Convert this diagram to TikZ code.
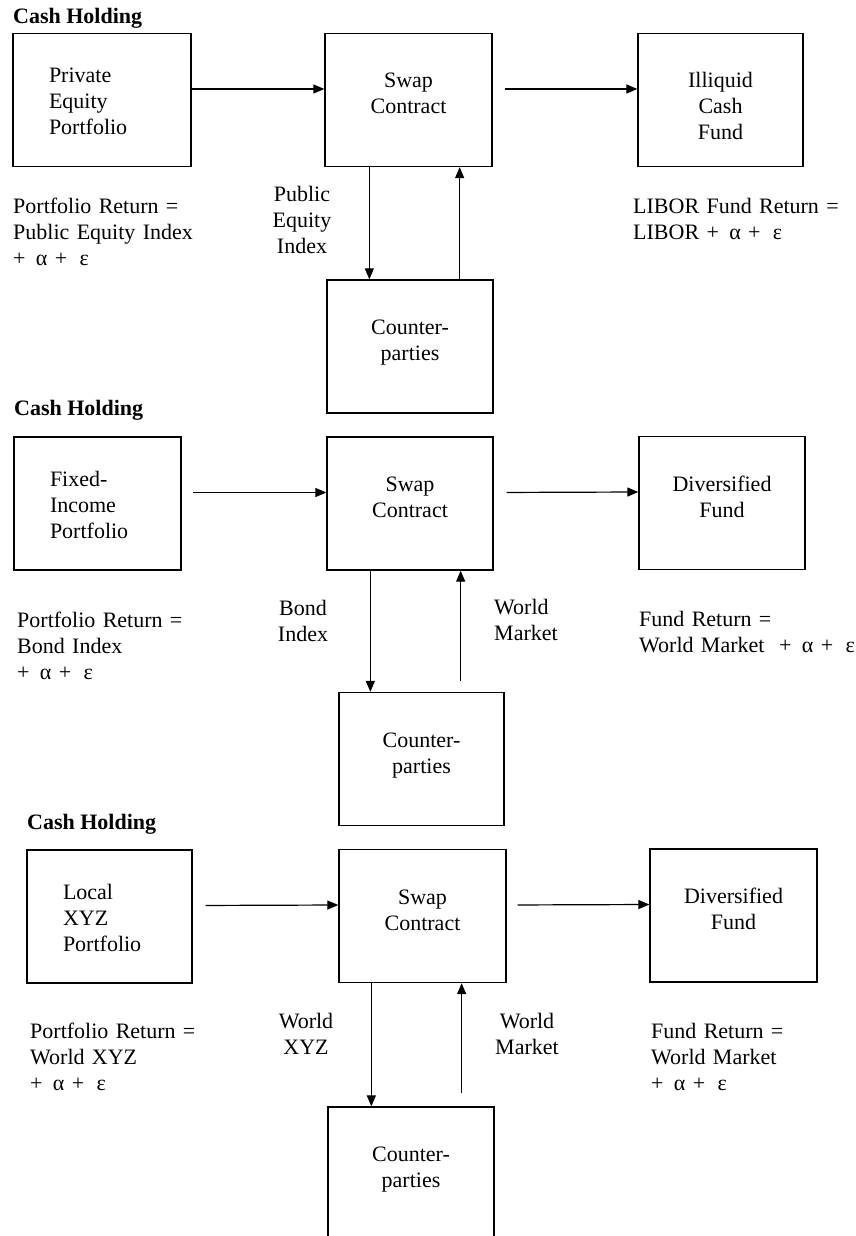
\documentclass[tikz,border=0pt]{standalone}
\usepackage{fontspec}
\setmainfont{Liberation Serif}
\usetikzlibrary{arrows.meta}

\tikzset{
	every node/.style={font=\fontsize{22pt}{26pt}\selectfont},
	box/.style={draw, line width=1.3pt, minimum height=133pt, inner sep=0pt, text height=15pt},
	midbox/.style={box, minimum width=#1, text width=150pt, align=center, text depth=39pt},
	leftbox/.style={box, minimum width=#1, text width=#1-72pt, align=left, text depth=49pt},
	title/.style={anchor=base west, inner sep=0pt, font=\fontsize{22pt}{26pt}\selectfont\bfseries},
	note/.style={anchor=base west, inner sep=0pt, text width=230pt, align=left},
	tag/.style={anchor=base, inner sep=0pt, text width=90pt, align=center},
	arr/.style={-{Triangle[length=11pt,width=9pt]}, line width=1.2pt}
}

\begin{document}
\begin{tikzpicture}[x=1pt, y=-1pt]
	\useasboundingbox (0,0) rectangle (855,1236);
	\clip (0,0) rectangle (855,1236);

	\node[title] (title1) at (13,24) {Cash Holding};
	\node[leftbox=178pt] (pep) at (102,100) {Private\\Equity\\Portfolio};
	\node[midbox=167pt] (swap1) at (408.5,100) {Swap\\Contract};
	\node[midbox=165pt] (cash1) at (720.5,100) {Illiquid\\Cash\\Fund};
	\node[midbox=166pt] (cp1) at (410,346.5) {Counter-\\parties};
	\node[note] (ret1) at (13,213) {Portfolio Return =\\Public Equity Index\\+ \hspace{3pt}α + \hspace{5pt}ε};
	\node[tag] (idx1) at (302,201) {Public\\Equity\\Index};
	\node[note] (libor1) at (633,213) {LIBOR Fund Return =\\LIBOR + \hspace{3pt}α + \hspace{5pt}ε};

	\draw[arr] ([yshift=11pt]pep.east) -- ([yshift=11pt]swap1.west);
	\draw[arr, shorten <=12pt] ([yshift=11pt]swap1.east) -- ([yshift=11pt]cash1.west);
	\draw[arr] ([xshift=45pt]swap1.south west) -- ([xshift=45pt]swap1.south west |- cp1.north);
	\draw[arr] ([xshift=-33pt]swap1.south east |- cp1.north) -- ([xshift=-33pt]swap1.south east);

	\node[title] (title2) at (14,415) {Cash Holding};
	\node[leftbox=167pt] (fip) at (97.5,503.5) {Fixed-\\Income\\Portfolio};
	\node[midbox=166pt] (swap2) at (410,503.5) {Swap\\Contract};
	\node[midbox=166pt] (div2) at (722,503) {Diversified\\Fund};
	\node[midbox=165pt] (cp2) at (421.5,759) {Counter-\\parties};
	\node[note] (ret2) at (17,627) {Portfolio Return =\\Bond Index\\+ \hspace{3pt}α + \hspace{5pt}ε};
	\node[tag] (idx2) at (303,615) {Bond\\Index};
	\node[note] (wm2) at (494,614) {World\\Market};
	\node[note] (fund2) at (639,626) {Fund Return =\\World Market ~+ \hspace{3pt}α + \hspace{5pt}ε};

	\draw[arr, shorten <=11pt] ([yshift=11pt]fip.east) -- ([yshift=11pt]swap2.west);
	\draw[arr, shorten <=13pt] ([yshift=11pt]swap2.east) -- ([yshift=11pt]div2.west);
	\draw[arr] ([xshift=44pt]swap2.south west) -- ([xshift=44pt]swap2.south west |- cp2.north);
	\draw[arr, shorten <=11pt] ([xshift=-33pt]swap2.south east |- cp2.north) -- ([xshift=-33pt]swap2.south east);

	\node[title] (title3) at (27,829) {Cash Holding};
	\node[leftbox=165pt] (lxp) at (109.5,916.5) {Local\\XYZ\\Portfolio};
	\node[midbox=167pt] (swap3) at (422.5,916) {Swap\\Contract};
	\node[midbox=167pt] (div3) at (733.5,915.5) {Diversified\\Fund};
	\node[midbox=166pt] (cp3) at (411,1173.5) {Counter-\\parties};
	\node[note] (ret3) at (30,1038) {Portfolio Return =\\World XYZ\\+ \hspace{3pt}α + \hspace{5pt}ε};
	\node[tag] (idx3) at (306,1028) {World\\XYZ};
	\node[tag] (wm3) at (527,1028) {World\\Market};
	\node[note] (fund3) at (651,1038) {Fund Return =\\World Market\\+ \hspace{3pt}α + \hspace{5pt}ε};

	\draw[arr, shorten <=13pt] ([yshift=11pt]lxp.east) -- ([yshift=11pt]swap3.west);
	\draw[arr, shorten <=11pt] ([yshift=11pt]swap3.east) -- ([yshift=11pt]div3.west);
	\draw[arr] ([xshift=33pt]swap3.south west) -- ([xshift=33pt]swap3.south west |- cp3.north);
	\draw[arr, shorten <=13pt] ([xshift=-45pt]swap3.south east |- cp3.north) -- ([xshift=-45pt]swap3.south east);
\end{tikzpicture}
\end{document}
